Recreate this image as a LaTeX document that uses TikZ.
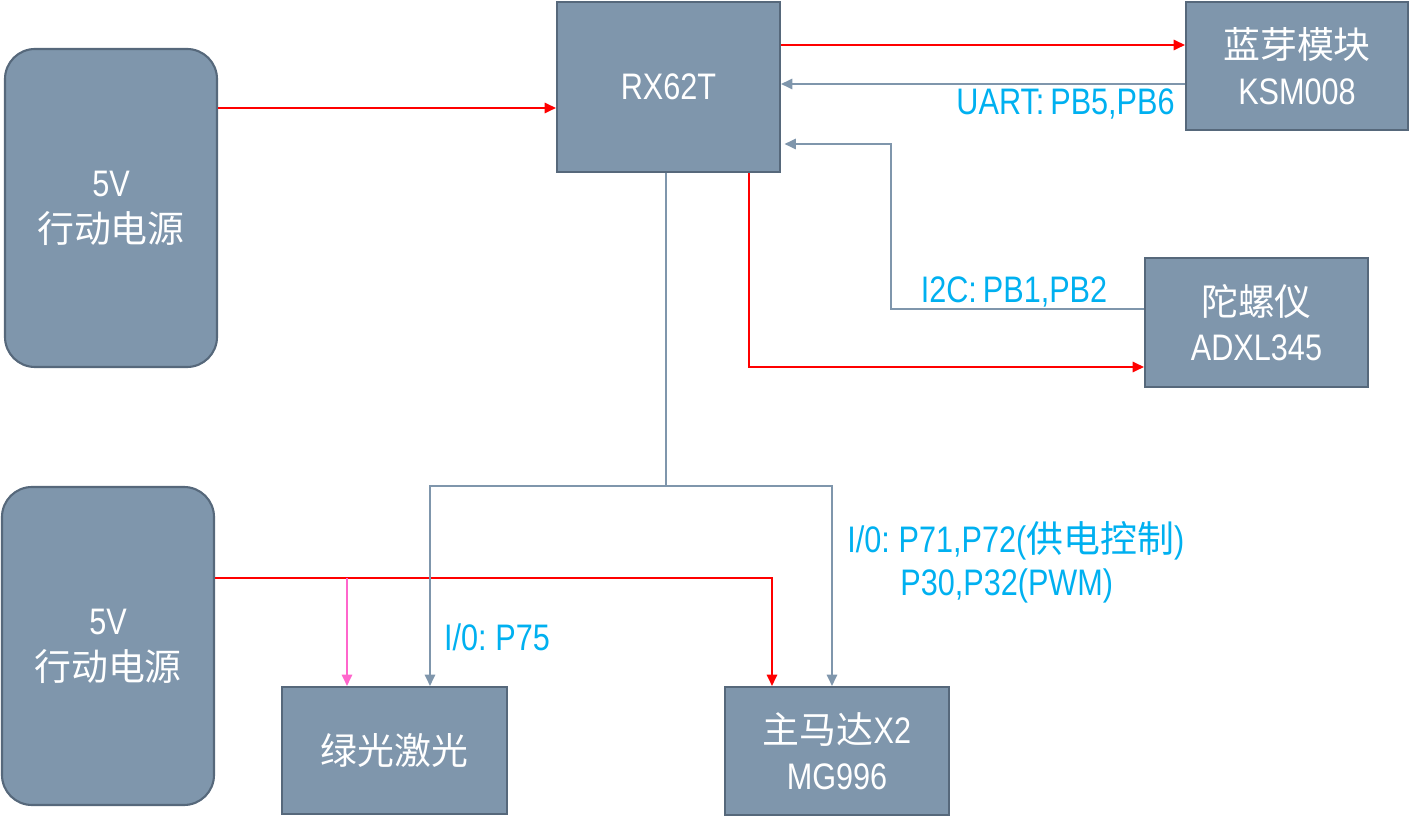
\documentclass[tikz,border=0pt]{standalone}
\usepackage{fontspec}
\setmainfont{Liberation Sans}[FakeStretch=0.83,WordSpace=0.7]
\newfontfamily\cjk{Noto Sans CJK SC}[Scale=1.0]
\usetikzlibrary{arrows.meta,positioning}
\definecolor{boxfill}{HTML}{7F96AC}
\definecolor{boxline}{HTML}{56687B}
\definecolor{sigline}{HTML}{7F96AC}
\definecolor{lbl}{HTML}{00B0F0}
\definecolor{pwr}{HTML}{FF0000}
\definecolor{pinkline}{HTML}{FF66CC}

\begin{document}
\begin{tikzpicture}[
    blockbox/.style={draw=boxline,line width=1.2pt,fill=boxfill,text=white,align=center,
        font=\fontsize{21}{26}\selectfont,inner sep=0pt},
    powerbox/.style={blockbox,rounded corners=0.6cm,minimum width=4.24cm,minimum height=6.36cm},
    redline/.style={draw=pwr,line width=0.9pt,-{Triangle[length=6.5pt,width=6pt]}},
    grayline/.style={draw=sigline,line width=0.9pt,-{Triangle[length=6.5pt,width=6pt]}},
    pinkarrow/.style={draw=pinkline,line width=0.9pt,-{Triangle[length=6.5pt,width=6pt]}},
    pinlabel/.style={text=lbl,font=\fontsize{21}{26}\selectfont,inner sep=0pt,align=left}
]
        \useasboundingbox (0,0) rectangle (28.22,16.42);
        % Power supplies
        \node[powerbox] (pwrA) at (2.22,12.26) {5V\\{\cjk 行动电源}};
        \node[powerbox] (pwrB) at (2.16,3.50) {5V\\{\cjk 行动电源}};
        % Controller and modules
        \node[blockbox,minimum width=4.46cm,minimum height=3.40cm] (mcu) at (13.37,14.68) {RX62T};
        \node[blockbox,minimum width=4.44cm,minimum height=2.56cm] (bt) at (25.94,15.10) {{\cjk 蓝芽模块}\\KSM008};
        \node[blockbox,minimum width=4.46cm,minimum height=2.58cm] (gyro) at (25.13,9.97) {{\cjk 陀螺仪}\\ADXL345};
        \node[blockbox,minimum width=4.50cm,minimum height=2.54cm] (laser) at (7.89,1.41) {{\cjk 绿光激光}};
        \node[blockbox,minimum width=4.48cm,minimum height=2.56cm] (motor) at (16.74,1.40) {{\cjk 主马达}X2\\MG996};
        % Junction points
        \coordinate (ioA) at (13.32,6.70);
        \coordinate (ioL) at (8.60,6.70);
        \coordinate (ioR) at (16.64,6.70);
        \coordinate (i2cA) at (17.82,10.24);
        \coordinate (i2cB) at (17.82,13.54);
        \coordinate (pwrG) at (14.98,9.08);
        \coordinate (pwrM) at (15.44,4.86);
        \coordinate (pwrL) at (6.94,4.86);
        % Power lines
        \draw[redline] (pwrA.east |- 0,14.26) -- (mcu.west |- 0,14.26);
        \draw[redline] (mcu.east |- 0,15.52) -- (bt.west |- 0,15.52);
        \draw[redline] (mcu.south -| pwrG) -- (pwrG) -- (gyro.west |- pwrG);
        \draw[redline] (pwrB.east |- pwrM) -- (pwrM) -- (motor.north -| pwrM);
        \draw[pinkarrow] (pwrL) -- (laser.north -| pwrL);
        % Signal lines
        \draw[grayline] (bt.west |- 0,14.74) -- (mcu.east |- 0,14.74);
        \draw[grayline,shorten >=2pt] (gyro.west |- i2cA) -- (i2cA) -- (i2cB) -- (mcu.east |- i2cB);
        \draw[sigline,line width=0.9pt] (mcu.south -| ioA) -- (ioA);
        \draw[grayline] (ioR) -- (ioL) -- (laser.north -| ioL);
        \draw[grayline] (ioL) -- (ioR) -- (motor.north -| ioR);
        % Pin labels
        \node[pinlabel,anchor=east] (uart) at (23.50,14.34) {UART: PB5,PB6};
        \node[pinlabel] (i2c) at (20.28,10.58) {I2C: PB1,PB2};
        \node[pinlabel] (ioP) at (9.94,3.68) {I/0: P75};
        \node[pinlabel,anchor=west] (ioM1) at (16.94,5.60) {I/0: P71,P72({\cjk 供电控制})};
        \node[pinlabel,anchor=west] (ioM2) at (18.00,4.70) {P30,P32(PWM)};
\end{tikzpicture}
\end{document}
